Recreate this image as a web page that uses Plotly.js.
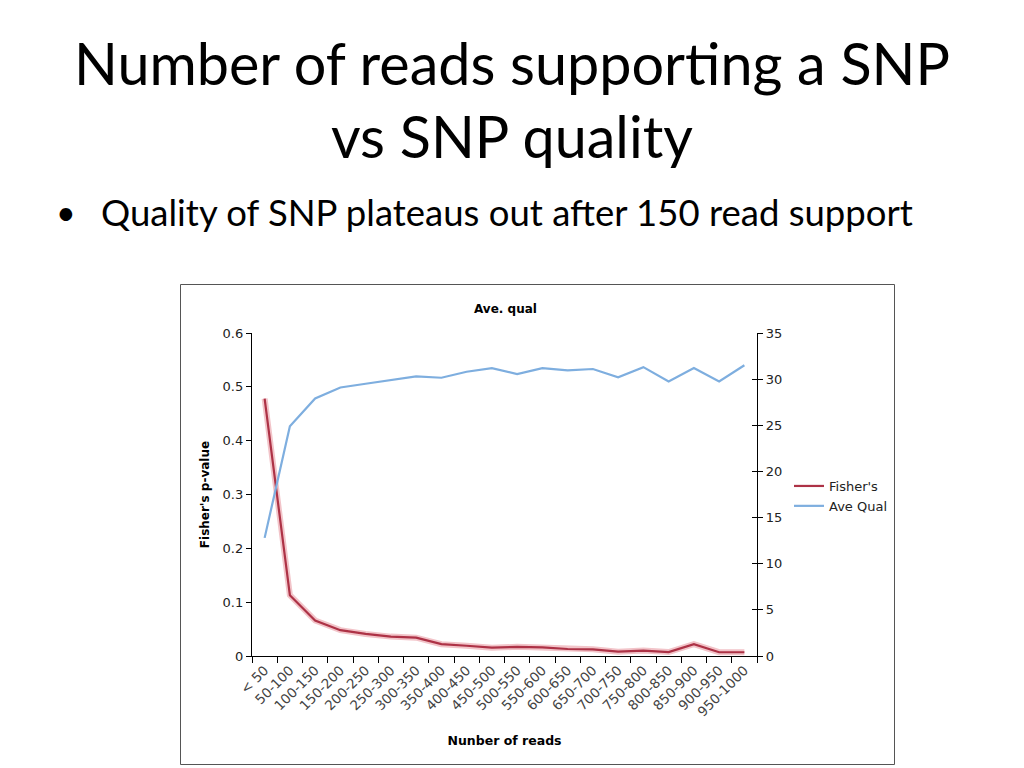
<!DOCTYPE html>
<html>
<head>
<meta charset="utf-8">
<script src="https://cdn.plot.ly/plotly-3.0.1.min.js"></script>
<style>
html,body{margin:0;padding:0;background:#fff;}
#chart{width:1024px;height:768px;}
</style>
</head>
<body>
<div id="chart"></div>
<script>
const categories = ["< 50","50-100","100-150","150-200","200-250","250-300","300-350","350-400","400-450","450-500","500-550","550-600","600-650","650-700","700-750","750-800","800-850","850-900","900-950","950-1000"];
const fisherValues = [0.478,0.113,0.066,0.048,0.041,0.036,0.034,0.022,0.019,0.0155,0.017,0.016,0.013,0.0124,0.008,0.010,0.0074,0.022,0.007,0.007];
const aveQualValues = [12.8,24.9,27.9,29.1,29.5,29.9,30.3,30.15,30.8,31.2,30.55,31.2,30.95,31.1,30.2,31.3,29.75,31.2,29.75,31.5];
const leftTickVals = [0,0.1,0.2,0.3,0.4,0.5,0.6];
const leftTickText = ["0","0.1","0.2","0.3","0.4","0.5","0.6"];
const rightTickVals = [0,5,10,15,20,25,30,35];

// plot area in pixels
const L = 252, R = 757, T = 333, B = 656;
const W = R - L, H = B - T;
const px = x => (x - L) / W;
const py = y => (B - y) / H;

const chartFont = "DejaVu Sans, Verdana, sans-serif";
const slideFont = "Lato, Carlito, Calibri, sans-serif";

const traces = [
  {x: categories, y: fisherValues, type: "scatter", mode: "lines", name: "Fisher's", yaxis: "y",
   line: {color: "#f2c4c9", width: 6}, showlegend: false, hoverinfo: "skip"},
  {x: categories, y: fisherValues, type: "scatter", mode: "lines", name: "Fisher's", yaxis: "y",
   line: {color: "#ad3246", width: 2.2}},
  {x: categories, y: aveQualValues, type: "scatter", mode: "lines", name: "Ave Qual", yaxis: "y2",
   line: {color: "#7eaedf", width: 2.2}}
];

const layout = {
  width: 1024, height: 768,
  margin: {l: L, r: 1024 - R, t: T, b: 768 - B, pad: 0},
  paper_bgcolor: "#ffffff", plot_bgcolor: "#ffffff",
  showlegend: true,
  legend: {x: px(789), y: py(471), xanchor: "left", yanchor: "top",
           font: {family: chartFont, size: 13, color: "#222"}, bgcolor: "rgba(0,0,0,0)",
           tracegroupgap: 0, itemwidth: 30},
  xaxis: {type: "category", showgrid: false, zeroline: false, showline: true, linecolor: "#000", linewidth: 1.2,
          ticks: "outside", tickson: "boundaries", ticklen: 6, tickcolor: "#000", tickangle: -45,
          tickfont: {family: chartFont, size: 13.5, color: "#444"},
          range: [-0.5, categories.length - 0.5],
          title: {text: "<b>Nunber of reads</b>", font: {family: chartFont, size: 12.5, color: "#000"}, standoff: 17}},
  yaxis: {range: [0, 0.6], tickvals: leftTickVals, ticktext: leftTickText, showgrid: false, zeroline: false,
          showline: true, linecolor: "#000", linewidth: 1.2, ticks: "outside", ticklen: 5, tickcolor: "#000",
          tickfont: {family: chartFont, size: 13, color: "#222"},
          title: {text: "<b>Fisher's p-value</b>", font: {family: chartFont, size: 12, color: "#000"}, standoff: 10}},
  yaxis2: {range: [0, 35], tickvals: rightTickVals, overlaying: "y", side: "right", anchor: "x",
           showgrid: false, zeroline: false, showline: true, linecolor: "#000", linewidth: 1.2,
           ticks: "outside", ticklen: 5, tickcolor: "#000",
           tickfont: {family: chartFont, size: 13, color: "#222"}},
  yaxis3: {range: [0, 35], tickvals: rightTickVals, overlaying: "y", side: "right", anchor: "x",
           showgrid: false, zeroline: false, showline: false, showticklabels: false,
           ticks: "inside", ticklen: 5, tickcolor: "#000"},
  annotations: [
    {text: "Number of reads supporting a SNP", xref: "paper", yref: "paper", x: px(512), y: py(62), showarrow: false,
     xanchor: "center", yanchor: "middle", font: {family: slideFont, size: 57.5, color: "#000"}},
    {text: "vs SNP quality", xref: "paper", yref: "paper", x: px(512), y: py(135), showarrow: false,
     xanchor: "center", yanchor: "middle", font: {family: slideFont, size: 57.5, color: "#000"}},
    {text: "<b>Ave. qual</b>", xref: "paper", yref: "paper", x: px(505), y: py(309), showarrow: false,
     xanchor: "center", yanchor: "middle", font: {family: chartFont, size: 12, color: "#000"}},
    {text: "•", xref: "paper", yref: "paper", x: px(66), y: py(211), showarrow: false,
     xanchor: "center", yanchor: "middle", font: {family: slideFont, size: 34, color: "#000"}},
    {text: "Quality of SNP plateaus out after 150 read support", xref: "paper", yref: "paper", x: px(99), y: py(212),
     showarrow: false, xanchor: "left", yanchor: "middle", font: {family: slideFont, size: 36.5, color: "#000"}}
  ],
  shapes: [
    {type: "rect", xref: "paper", yref: "paper", x0: px(180.5), x1: px(894.5), y0: py(764.5), y1: py(284.5),
     line: {color: "#555", width: 1}, fillcolor: "rgba(0,0,0,0)", layer: "below"}
  ]
};

// empty trace to activate yaxis3 (inner half of the crossing ticks on the right axis)
traces.push({x: [categories[0]], y: [null], yaxis: "y3", type: "scatter", mode: "lines", showlegend: false, hoverinfo: "skip"});

Plotly.newPlot("chart", traces, layout, {staticPlot: true, displayModeBar: false});
</script>
</body>
</html>
